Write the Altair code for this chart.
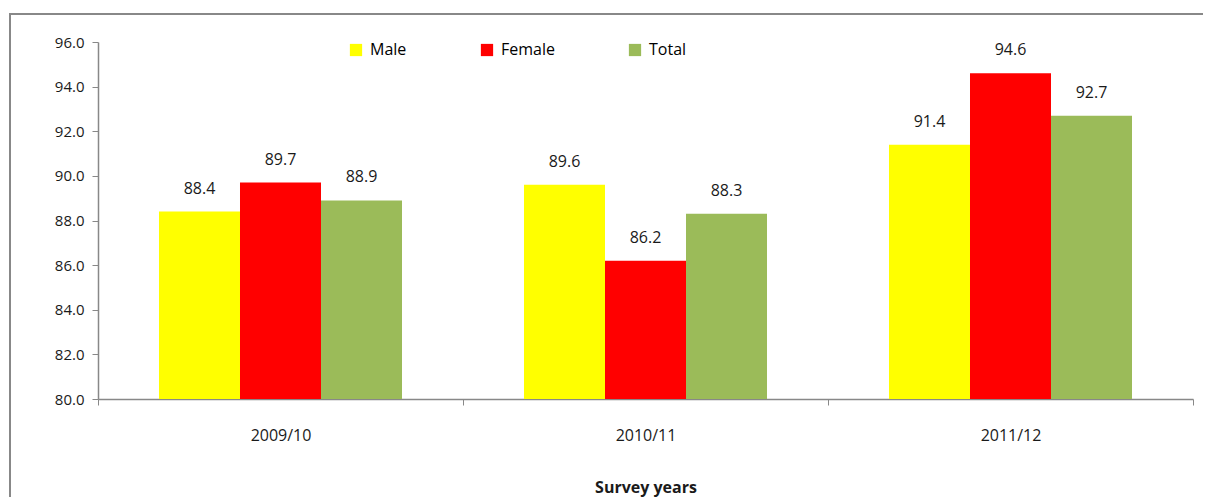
import altair as alt
import pandas as pd

years = ["2009/10", "2010/11", "2011/12"]
series = ["Male", "Female", "Total"]
male = [88.4, 89.6, 91.4]
female = [89.7, 86.2, 94.6]
total = [88.9, 88.3, 92.7]
colors = ["#FFFF00", "#FF0000", "#9BBB59"]

rows = []
for s, vals in zip(series, [male, female, total]):
    for y, v in zip(years, vals):
        rows.append({"year": y, "series": s, "value": v})
df = pd.DataFrame(rows)

FONT = "Open Sans"
W, H = 1095, 357

x = alt.X("year:N", sort=years, title="Survey years",
          scale=alt.Scale(paddingInner=0, paddingOuter=0),
          axis=alt.Axis(labelAngle=0, tickBand="extent", labelPadding=22, tickSize=6,
                        labelFontSize=16, titleFontSize=16,
                        titlePadding=36, titleFontWeight="bold"))
xo = alt.XOffset("series:N", sort=series,
                 scale=alt.Scale(paddingInner=0, paddingOuter=0.753))
yenc = alt.Y("value:Q", title=None,
             scale=alt.Scale(domain=[80, 96], zero=False, nice=False),
             axis=alt.Axis(values=[80, 82, 84, 86, 88, 90, 92, 94, 96], format=".1f",
                           grid=False, tickSize=6, labelPadding=8, labelFontSize=15))

bars = alt.Chart(df).mark_bar(clip=True).encode(
    x=x, xOffset=xo, y=yenc,
    y2=alt.datum(80),
    color=alt.Color("series:N", sort=series,
                    scale=alt.Scale(domain=series, range=colors),
                    legend=alt.Legend(title=None, orient="none", direction="horizontal",
                                      legendX=250, legendY=0, symbolType="square",
                                      symbolSize=150, symbolStrokeWidth=0,
                                      labelFontSize=16, labelFont=FONT,
                                      columnPadding=72, labelOffset=6)),
)

labels = alt.Chart(df).mark_text(baseline="bottom", dy=-15, fontSize=16, font=FONT,
                                 color="#1a1a1a").encode(
    x=x, xOffset=xo, y=yenc, text=alt.Text("value:Q", format=".1f"))

frame = alt.Chart(pd.DataFrame({"a": [0]})).mark_rect(
    fill=None, stroke="#888888", strokeWidth=2).encode(
    x=alt.value(-88), x2=alt.value(W + 40), y=alt.value(-28), y2=alt.value(H + 120))

chart = alt.layer(frame, bars, labels).properties(
    width=W, height=H,
    autosize=alt.AutoSizeParams(type="none"),
    padding={"left": 90, "top": 34, "right": 10, "bottom": 100},
).configure_view(stroke=None).configure_axis(
    domainColor="#888888", tickColor="#888888", labelFont=FONT,
    labelColor="#1a1a1a", titleFont=FONT, titleColor="#1a1a1a",
    domainWidth=1.5,
)

chart.save("out.html", embed_options={"renderer": "svg", "actions": False})
